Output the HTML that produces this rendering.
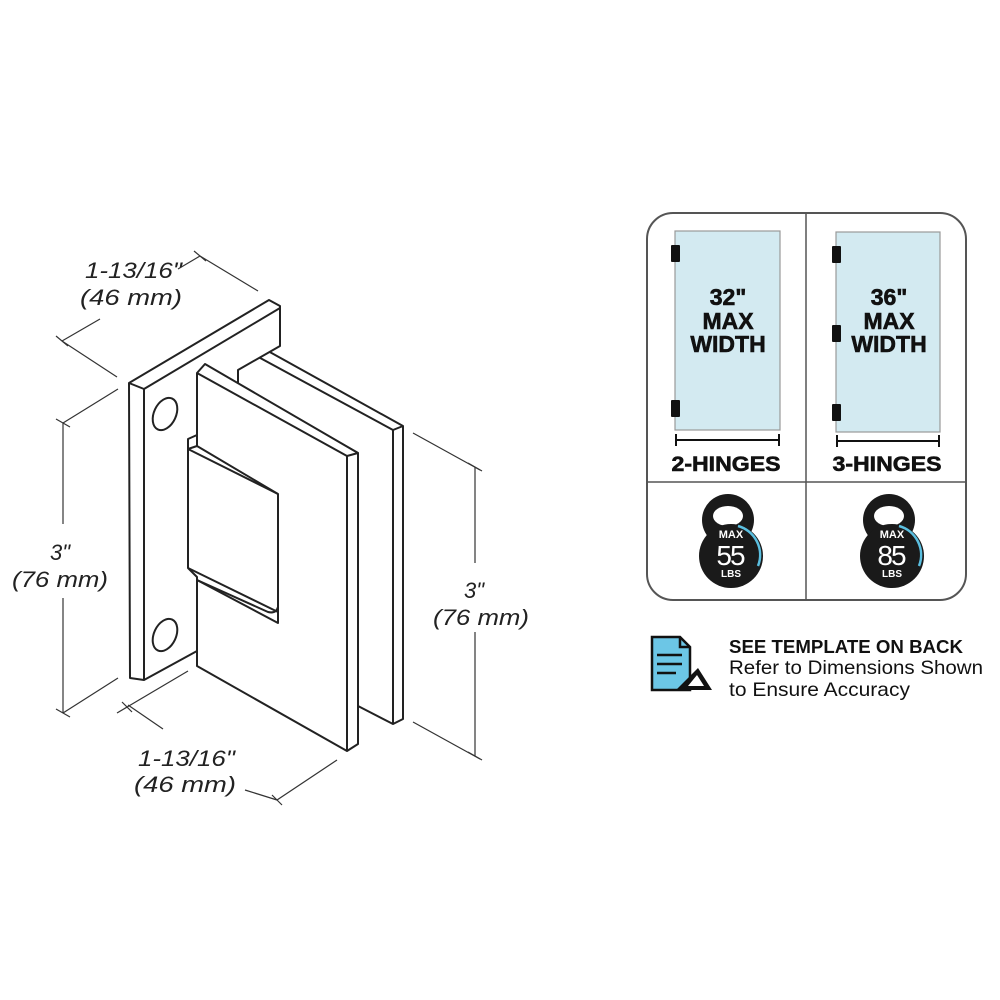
<!DOCTYPE html>
<html><head><meta charset="utf-8"><style>
body{margin:0;background:#fff;}
svg{display:block}
</style></head><body>
<svg width="1000" height="1000" viewBox="0 0 1000 1000" xmlns="http://www.w3.org/2000/svg">
<rect width="1000" height="1000" fill="#fff"/>
<g fill="#fff" stroke="#222" stroke-width="2" stroke-linejoin="round">
<polygon points="238,346 250,341 403,426 403,719 393,724 358,706 358,453 238,385"/>
<line x1="250" y1="341" x2="238" y2="346"/>
<line x1="238" y1="346" x2="393" y2="430"/>
<line x1="393" y1="430" x2="403" y2="426"/>
<line x1="393" y1="430" x2="393" y2="724"/>
<polygon points="129,383 269,300 280,306 280,346 238,370 238,640 197,651 144,680 130,678"/>
<line x1="129" y1="383" x2="144" y2="389"/>
<line x1="144" y1="389" x2="280" y2="308"/>
<line x1="144" y1="389" x2="144" y2="680"/>
<ellipse cx="165" cy="414" rx="11" ry="17" transform="rotate(25 165 414)"/>
<ellipse cx="165" cy="635" rx="11" ry="17" transform="rotate(25 165 635)"/>
<polygon points="197,373 205,364 358,453 358,744 347,751 197,666 197,373"/>
<line x1="197" y1="373" x2="347" y2="456"/>
<line x1="347" y1="456" x2="358" y2="453"/>
<line x1="347" y1="456" x2="347" y2="751"/>
<polygon points="188,439 197,435 197,446 278,494 278,623 197,580 197,577 188,568"/>
<line x1="188" y1="449" x2="278" y2="494"/>
<line x1="188" y1="449" x2="197" y2="446"/>
<path d="M197,580 L268,612 Q276,614 278,607" fill="none"/>
<line x1="188" y1="568" x2="278" y2="612"/>
</g>
<g stroke="#333" stroke-width="1.2" fill="none">
<line x1="62" y1="341" x2="100" y2="319"/>
<line x1="178" y1="269" x2="200" y2="256"/>
<line x1="62" y1="341" x2="117" y2="377"/>
<line x1="200" y1="256" x2="258" y2="291"/>
<path d="M56,336 l12,10 M194,251 l12,10"/>
<line x1="63" y1="423" x2="63" y2="524"/>
<line x1="63" y1="598" x2="63" y2="713"/>
<line x1="63" y1="423" x2="118" y2="389"/>
<line x1="63" y1="713" x2="118" y2="678"/>
<path d="M56,419 l14,8 M56,709 l14,8"/>
<line x1="475" y1="467" x2="475" y2="563"/>
<line x1="475" y1="632" x2="475" y2="756"/>
<line x1="413" y1="433" x2="480" y2="470"/>
<line x1="413" y1="722" x2="480" y2="759"/>
<path d="M468,463 l14,8 M468,752 l14,8"/>
<line x1="117" y1="713" x2="188" y2="671"/>
<line x1="128" y1="705" x2="163" y2="729"/>
<line x1="245" y1="790" x2="277" y2="800"/>
<line x1="277" y1="800" x2="337" y2="760"/>
<path d="M122,702 l10,10 M272,795 l10,10"/>
</g>
<g font-family="Liberation Sans, sans-serif" font-style="italic" font-size="22" fill="#222">
<text x="85" y="278" textLength="97" lengthAdjust="spacingAndGlyphs">1-13/16"</text>
<text x="80" y="305" textLength="102" lengthAdjust="spacingAndGlyphs">(46 mm)</text>
<text x="50" y="560">3"</text>
<text x="12" y="587" textLength="96" lengthAdjust="spacingAndGlyphs">(76 mm)</text>
<text x="464" y="598">3"</text>
<text x="433" y="625" textLength="96" lengthAdjust="spacingAndGlyphs">(76 mm)</text>
<text x="138" y="766" textLength="97" lengthAdjust="spacingAndGlyphs">1-13/16"</text>
<text x="134" y="792" textLength="102" lengthAdjust="spacingAndGlyphs">(46 mm)</text>
</g>
<rect x="647" y="213" width="319" height="387" rx="26" fill="#fff" stroke="#555" stroke-width="2"/>
<line x1="806" y1="213" x2="806" y2="600" stroke="#555" stroke-width="1.5"/>
<line x1="647" y1="482" x2="966" y2="482" stroke="#555" stroke-width="1.5"/>
<rect x="675" y="231" width="105" height="199" fill="#d3eaf1" stroke="#999" stroke-width="1.2"/>
<rect x="836" y="232" width="104" height="200" fill="#d3eaf1" stroke="#999" stroke-width="1.2"/>
<g fill="#111">
<rect x="671" y="245" width="9" height="17" rx="1"/>
<rect x="671" y="400" width="9" height="17" rx="1"/>
<rect x="832" y="246" width="9" height="17" rx="1"/>
<rect x="832" y="325" width="9" height="17" rx="1"/>
<rect x="832" y="404" width="9" height="17" rx="1"/>
</g>
<g stroke="#111" stroke-width="2" fill="#111">
<line x1="676" y1="440" x2="779" y2="440"/>
<line x1="676" y1="434" x2="676" y2="446"/><line x1="779" y1="434" x2="779" y2="446"/>
<line x1="837" y1="441" x2="939" y2="441"/>
<line x1="837" y1="435" x2="837" y2="447"/><line x1="939" y1="435" x2="939" y2="447"/>
</g>
<g font-family="Liberation Sans, sans-serif" font-weight="bold" fill="#111" stroke="#111" stroke-width="0.6" text-anchor="middle">
<text x="728" y="305" font-size="23">32"</text>
<text x="728" y="329" font-size="23">MAX</text>
<text x="728" y="352" font-size="23">WIDTH</text>
<text x="889" y="305" font-size="23">36"</text>
<text x="889" y="329" font-size="23">MAX</text>
<text x="889" y="352" font-size="23">WIDTH</text>
<text x="726" y="471" font-size="21" textLength="109" lengthAdjust="spacingAndGlyphs">2-HINGES</text>
<text x="887" y="471" font-size="21" textLength="109" lengthAdjust="spacingAndGlyphs">3-HINGES</text>
</g>
<g>
<circle cx="728" cy="520" r="26" fill="#1a1a1a"/>
<ellipse cx="728" cy="516" rx="15" ry="10" fill="#fff"/>
<circle cx="731" cy="556" r="32" fill="#1a1a1a"/>
<path d="M738,526 A30,30 0 0 1 758,566" fill="none" stroke="#5bbfe0" stroke-width="2.5"/>
<text x="731" y="538" font-family="Liberation Sans, sans-serif" font-weight="bold" font-size="11" fill="#fff" text-anchor="middle">MAX</text>
<text x="730" y="565" font-family="Liberation Sans, sans-serif" font-size="28" fill="#fff" text-anchor="middle" letter-spacing="-2">55</text>
<text x="731" y="577" font-family="Liberation Sans, sans-serif" font-weight="bold" font-size="10" fill="#fff" text-anchor="middle">LBS</text>
<circle cx="889" cy="520" r="26" fill="#1a1a1a"/>
<ellipse cx="889" cy="516" rx="15" ry="10" fill="#fff"/>
<circle cx="892" cy="556" r="32" fill="#1a1a1a"/>
<path d="M899,526 A30,30 0 0 1 919,566" fill="none" stroke="#5bbfe0" stroke-width="2.5"/>
<text x="892" y="538" font-family="Liberation Sans, sans-serif" font-weight="bold" font-size="11" fill="#fff" text-anchor="middle">MAX</text>
<text x="891" y="565" font-family="Liberation Sans, sans-serif" font-size="28" fill="#fff" text-anchor="middle" letter-spacing="-2">85</text>
<text x="892" y="577" font-family="Liberation Sans, sans-serif" font-weight="bold" font-size="10" fill="#fff" text-anchor="middle">LBS</text>
</g>
<g stroke="#111" stroke-width="2.5">
<path d="M652,637 L680,637 L690,647 L690,690 L652,690 Z" fill="#6cc6e6"/>
<path d="M680,637 L680,647 L690,647" fill="none"/>
<line x1="657" y1="655" x2="682" y2="655"/>
<line x1="657" y1="664" x2="682" y2="664"/>
<line x1="657" y1="673" x2="676" y2="673"/>
</g>
<path d="M676,690 L712,690 L698,668 Z" fill="#111"/>
<path d="M688,686 L704,686 L697,675 Z" fill="#fff"/>
<g font-family="Liberation Sans, sans-serif" fill="#111">
<text x="729" y="653" font-size="18" font-weight="bold" textLength="234" lengthAdjust="spacingAndGlyphs">SEE TEMPLATE ON BACK</text>
<text x="729" y="674" font-size="19.5" textLength="254" lengthAdjust="spacingAndGlyphs">Refer to Dimensions Shown</text>
<text x="729" y="696" font-size="19.5" textLength="181" lengthAdjust="spacingAndGlyphs">to Ensure Accuracy</text>
</g>
</svg>
</body></html>
